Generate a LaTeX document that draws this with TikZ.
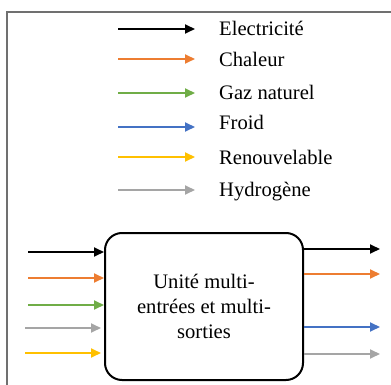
\documentclass[tikz,border=0pt]{standalone}
\usepackage{fontspec}
\setmainfont{Liberation Serif}
\usetikzlibrary{arrows.meta}
\definecolor{cOrange}{HTML}{ED7D31}
\definecolor{cGreen}{HTML}{70AD47}
\definecolor{cBlue}{HTML}{4472C4}
\definecolor{cYellow}{HTML}{FFC000}
\definecolor{cGray}{HTML}{A5A5A5}
\definecolor{cFrame}{HTML}{707070}
\begin{document}
\begin{tikzpicture}[x=1pt,y=-1pt,
  arr/.style={line width=1.8pt,-{Triangle[length=10pt,width=9pt]}},
  lab/.style={anchor=base west,inner sep=0pt,font=\fontsize{20.6}{25}\selectfont},
  unit/.style={draw,line width=2pt,rounded corners=17pt,minimum width=198pt,minimum height=147pt,align=center,font=\fontsize{20.6}{25}\selectfont}]
\useasboundingbox (0,0) rectangle (391,385);
% frame
\draw[cFrame,line width=1.3pt] (7,386) -- (7,12) -- (392,12);
% legend
\foreach \col/\ya/\yb/\txt [count=\i] in {black/29/36/Electricité,cOrange/59/66.7/Chaleur,cGreen/93/99.3/Gaz naturel,cBlue/127/129.3/Froid,cYellow/157/164.3/Renouvelable,cGray/190/196.7/Hydrogène}{
  \coordinate (la\i) at (118,\ya);
  \coordinate (lb\i) at (195,\ya);
  \draw[arr,\col] (la\i) -- (lb\i);
  \node[lab] (lt\i) at (219,\yb) {\txt};
}
% unit
\node[unit] (box) at (204,306.5) {Unité multi-\\entrées et multi-\\sorties};
% inputs
\coordinate (i1) at (28,252);
\coordinate (i2) at (28,278);
\coordinate (i3) at (28,305);
\coordinate (i4) at (25,328);
\coordinate (i5) at (25,353);
\draw[arr,black] (i1) -- (i1 -| box.west);
\draw[arr,cOrange] (i2) -- (i2 -| box.west);
\draw[arr,cGreen] (i3) -- (i3 -| box.west);
\draw[arr,cGray,shorten >=3pt] (i4) -- (i4 -| box.west);
\draw[arr,cYellow,shorten >=3pt] (i5) -- (i5 -| box.west);
% outputs
\coordinate (o1) at (380,249);
\coordinate (o2) at (380,274);
\coordinate (o3) at (380,327);
\coordinate (o4) at (380,354);
\draw[arr,black] (o1 -| box.east) -- (o1);
\draw[arr,cOrange] (o2 -| box.east) -- (o2);
\draw[arr,cBlue] (o3 -| box.east) -- (o3);
\draw[arr,cGray] (o4 -| box.east) -- (o4);
\end{tikzpicture}
\end{document}
